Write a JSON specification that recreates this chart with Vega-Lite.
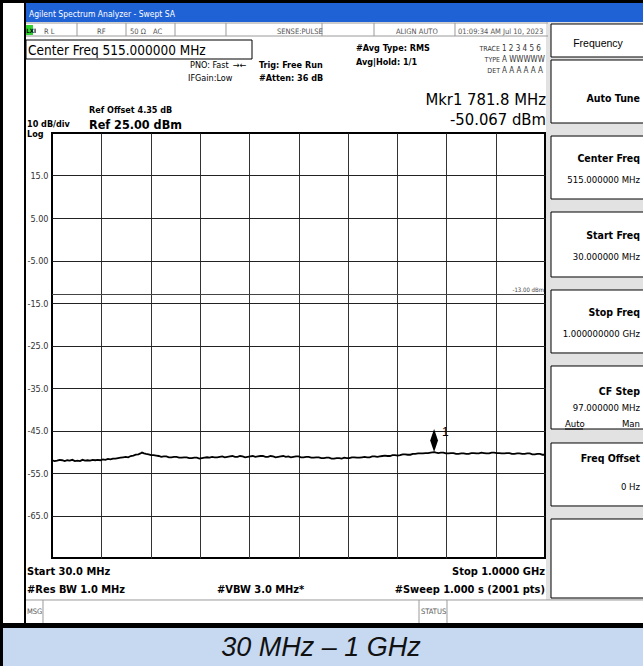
{
  "$schema": "https://vega.github.io/schema/vega-lite/v6.json",
  "width": 493,
  "height": 425,
  "autosize": {"type": "none"},
  "padding": {"left": 52, "top": 133, "right": 98, "bottom": 108},
  "background": "white",
  "datasets": {
    "trace": [
      {"f":30,"p":-52.0},{"f":35,"p":-52.2},{"f":40,"p":-52.1},{"f":45,"p":-51.9},{"f":50,"p":-52.0},{"f":55,"p":-52.2},{"f":60,"p":-52.0},{"f":65,"p":-52.1},{"f":70,"p":-51.9},{"f":75,"p":-52.2},
      {"f":80,"p":-52.1},{"f":85,"p":-52.2},{"f":90,"p":-51.9},{"f":95,"p":-52.1},{"f":100,"p":-52.0},{"f":105,"p":-52.1},{"f":110,"p":-51.9},{"f":115,"p":-52.0},{"f":120,"p":-51.9},{"f":125,"p":-52.0},
      {"f":130,"p":-51.8},{"f":135,"p":-51.9},{"f":140,"p":-51.7},{"f":145,"p":-51.8},{"f":150,"p":-51.6},{"f":155,"p":-51.6},{"f":160,"p":-51.5},{"f":165,"p":-51.4},{"f":170,"p":-51.3},{"f":175,"p":-51.2},
      {"f":180,"p":-51.3},{"f":185,"p":-51.0},{"f":190,"p":-50.9},{"f":195,"p":-50.7},{"f":200,"p":-50.6},{"f":204,"p":-50.4},{"f":207,"p":-50.2},{"f":211,"p":-50.4},{"f":215,"p":-50.5},{"f":220,"p":-50.6},
      {"f":225,"p":-50.8},{"f":230,"p":-50.8},{"f":235,"p":-50.9},{"f":240,"p":-51.0},{"f":245,"p":-51.2},{"f":250,"p":-51.1},{"f":255,"p":-51.1},{"f":260,"p":-51.3},{"f":265,"p":-51.3},{"f":270,"p":-51.2},
      {"f":275,"p":-51.2},{"f":280,"p":-51.4},{"f":285,"p":-51.4},{"f":290,"p":-51.3},{"f":295,"p":-51.3},{"f":300,"p":-51.5},{"f":305,"p":-51.5},{"f":310,"p":-51.4},{"f":315,"p":-51.4},{"f":320,"p":-51.6},
      {"f":325,"p":-51.5},{"f":330,"p":-51.4},{"f":335,"p":-51.3},{"f":340,"p":-51.4},{"f":345,"p":-51.2},{"f":350,"p":-51.3},{"f":355,"p":-51.3},{"f":360,"p":-51.2},{"f":365,"p":-51.1},{"f":370,"p":-51.3},
      {"f":375,"p":-51.2},{"f":380,"p":-51.1},{"f":385,"p":-51.0},{"f":390,"p":-51.2},{"f":395,"p":-51.2},{"f":400,"p":-51.0},{"f":405,"p":-51.1},{"f":410,"p":-51.3},{"f":415,"p":-51.2},{"f":420,"p":-51.1},
      {"f":425,"p":-51.0},{"f":430,"p":-51.2},{"f":435,"p":-51.1},{"f":440,"p":-51.0},{"f":445,"p":-51.0},{"f":450,"p":-51.2},{"f":455,"p":-51.2},{"f":460,"p":-51.0},{"f":465,"p":-51.1},{"f":470,"p":-51.3},
      {"f":475,"p":-51.2},{"f":480,"p":-51.1},{"f":485,"p":-51.0},{"f":490,"p":-51.2},{"f":495,"p":-51.1},{"f":500,"p":-51.3},{"f":505,"p":-51.2},{"f":510,"p":-51.1},{"f":515,"p":-51.1},{"f":520,"p":-51.3},
      {"f":525,"p":-51.3},{"f":530,"p":-51.2},{"f":535,"p":-51.2},{"f":540,"p":-51.4},{"f":545,"p":-51.4},{"f":550,"p":-51.3},{"f":555,"p":-51.3},{"f":560,"p":-51.5},{"f":565,"p":-51.5},{"f":570,"p":-51.4},
      {"f":575,"p":-51.4},{"f":580,"p":-51.6},{"f":585,"p":-51.6},{"f":590,"p":-51.5},{"f":595,"p":-51.5},{"f":600,"p":-51.6},{"f":605,"p":-51.4},{"f":610,"p":-51.5},{"f":615,"p":-51.5},{"f":620,"p":-51.3},
      {"f":625,"p":-51.3},{"f":630,"p":-51.4},{"f":635,"p":-51.4},{"f":640,"p":-51.3},{"f":645,"p":-51.2},{"f":650,"p":-51.3},{"f":655,"p":-51.3},{"f":660,"p":-51.1},{"f":665,"p":-51.1},{"f":670,"p":-51.2},
      {"f":675,"p":-51.1},{"f":680,"p":-51.0},{"f":685,"p":-50.9},{"f":690,"p":-51.0},{"f":695,"p":-51.0},{"f":700,"p":-50.8},{"f":705,"p":-50.8},{"f":710,"p":-50.9},{"f":715,"p":-50.8},{"f":720,"p":-50.6},
      {"f":725,"p":-50.6},{"f":730,"p":-50.7},{"f":735,"p":-50.7},{"f":740,"p":-50.5},{"f":745,"p":-50.5},{"f":750,"p":-50.4},{"f":755,"p":-50.4},{"f":760,"p":-50.4},{"f":765,"p":-50.3},{"f":770,"p":-50.3},
      {"f":775,"p":-50.2},{"f":781.8,"p":-50.07},{"f":786,"p":-50.2},{"f":790,"p":-50.3},{"f":795,"p":-50.2},{"f":800,"p":-50.2},{"f":805,"p":-50.4},{"f":810,"p":-50.4},{"f":815,"p":-50.3},{"f":820,"p":-50.3},
      {"f":825,"p":-50.5},{"f":830,"p":-50.5},{"f":835,"p":-50.4},{"f":840,"p":-50.4},{"f":845,"p":-50.5},{"f":850,"p":-50.5},{"f":855,"p":-50.3},{"f":860,"p":-50.3},{"f":865,"p":-50.4},{"f":870,"p":-50.4},
      {"f":875,"p":-50.2},{"f":880,"p":-50.3},{"f":885,"p":-50.4},{"f":890,"p":-50.4},{"f":895,"p":-50.2},{"f":900,"p":-50.2},{"f":905,"p":-50.3},{"f":910,"p":-50.3},{"f":915,"p":-50.4},{"f":920,"p":-50.4},
      {"f":925,"p":-50.3},{"f":930,"p":-50.3},{"f":935,"p":-50.5},{"f":940,"p":-50.5},{"f":945,"p":-50.4},{"f":950,"p":-50.4},{"f":955,"p":-50.5},{"f":960,"p":-50.5},{"f":965,"p":-50.4},{"f":970,"p":-50.4},
      {"f":975,"p":-50.6},{"f":980,"p":-50.6},{"f":985,"p":-50.5},{"f":990,"p":-50.5},{"f":995,"p":-50.7},{"f":1000,"p":-50.7}
    ],
    "marker": [{"f":781.8,"p":-50.067,"t":"1"}],
    "dline": [{"f":30,"f2":1000,"p":-13,"p2":-13}],
    "rBlack": [
      {"f":-73,"f2":1193,"p":57,"p2":55.59},
      {"f":-73,"f2":-66.41,"p":57,"p2":-101},
      {"f":-25.09,"f2":-21.16,"p":55.59,"p2":-90.29},
      {"f":-73,"f2":1193,"p":-90.29,"p2":-91.47}
    ],
    "rBlue": [{"f":-21.16,"f2":1193,"p":55.59,"p2":51.12}],
    "rCaption": [{"f":-66.41,"f2":1193,"p":-91.47,"p2":-101}],
    "rPanel": [{"f":1001.97,"f2":1193,"p":51.12,"p2":-84.88}],
    "rGreen": [{"f":-21.16,"f2":-7.38,"p":50.41,"p2":48.06}],
    "rBoxes": [
      {"f":1011.81,"f2":1197,"p":50.65,"p2":42.88},
      {"f":1011.81,"f2":1197,"p":42.18,"p2":27.35},
      {"f":1011.81,"f2":1197,"p":24.29,"p2":9.47},
      {"f":1011.81,"f2":1197,"p":6.41,"p2":-8.88},
      {"f":1011.81,"f2":1197,"p":-11.94,"p2":-26.76},
      {"f":1011.81,"f2":1197,"p":-29.82,"p2":-44.65},
      {"f":1011.81,"f2":1197,"p":-47.94,"p2":-62.76},
      {"f":1011.81,"f2":1197,"p":-65.82,"p2":-84.41},
      {"f":-21.16,"f2":423.51,"p":46.88,"p2":42.41}
    ],
    "lGrey": [
      {"f":-21.16,"f2":1005.9,"p":50.88,"p2":50.88},
      {"f":-21.16,"f2":1005.9,"p":47.82,"p2":47.82},
      {"f":79.19,"f2":79.19,"p":50.88,"p2":47.82},
      {"f":175.6,"f2":175.6,"p":50.88,"p2":47.82},
      {"f":272.01,"f2":272.01,"p":50.88,"p2":47.82},
      {"f":372.35,"f2":372.35,"p":50.88,"p2":47.82},
      {"f":561.24,"f2":561.24,"p":50.88,"p2":47.82},
      {"f":663.55,"f2":663.55,"p":50.88,"p2":47.82},
      {"f":822.92,"f2":822.92,"p":50.88,"p2":47.82},
      {"f":-21.16,"f2":1193,"p":-84.88,"p2":-84.88},
      {"f":12.29,"f2":12.29,"p":-84.88,"p2":-90.29},
      {"f":752.09,"f2":752.09,"p":-84.88,"p2":-90.29},
      {"f":807.18,"f2":807.18,"p":-84.88,"p2":-90.29}
    ],
    "lBlack": [{"f":1039.35,"f2":1074.7,"p":-44.65,"p2":-44.65}],
    "tTitle": [{"f":-15.25,"p":52.29,"t":"Agilent Spectrum Analyzer - Swept SA"}],
    "tStatus": [
      {"f":14.26,"p":48.29,"t":"R L"},
      {"f":118.54,"p":48.29,"t":"RF"},
      {"f":183.47,"p":48.29,"t":"50 Ω"},
      {"f":228.72,"p":48.29,"t":"AC"},
      {"f":472.7,"p":48.29,"t":"SENSE:PULSE"},
      {"f":706.84,"p":48.29,"t":"ALIGN AUTO"},
      {"f":828.83,"p":48.29,"t":"01:09:34 AM Jul 10, 2023"},
      {"f":-19.19,"p":-88.17,"t":"MSG"},
      {"f":756.03,"p":-88.17,"t":"STATUS"}
    ],
    "tLxi": [{"f":-20.5,"p":48.5,"t":"LXI"}],
    "tHdrN": [
      {"f":301.52,"p":40.29,"t":"PNO: Fast"},
      {"f":386.13,"p":40.29,"t":"→←"},
      {"f":297.59,"p":37.24,"t":"IFGain:Low"}
    ],
    "tHdr": [
      {"f":437.28,"p":40.29,"t":"Trig: Free Run"},
      {"f":437.28,"p":37.24,"t":"#Atten: 36 dB"},
      {"f":628.14,"p":44.29,"t":"#Avg Type: RMS"},
      {"f":628.14,"p":41.0,"t":"Avg|Hold: 1/1"},
      {"f":102.8,"p":29.71,"t":"Ref Offset 4.35 dB"},
      {"f":-19.19,"p":26.4,"t":"10 dB/div"},
      {"f":-19.19,"p":24.06,"t":"Log"}
    ],
    "tCenter": [{"f":-17.22,"p":43.35,"t":"Center Freq 515.000000 MHz"}],
    "tRef": [{"f":102.8,"p":26.0,"t":"Ref 25.00 dBm"}],
    "tMkr": [
      {"f":1001.97,"p":31.59,"t":"Mkr1 781.8 MHz"},
      {"f":1001.97,"p":26.88,"t":"-50.067 dBm"}
    ],
    "tBotL": [
      {"f":-19.19,"p":-79.0,"t":"Start 30.0 MHz"},
      {"f":-19.19,"p":-83.23,"t":"#Res BW 1.0 MHz"},
      {"f":354.65,"p":-83.23,"t":"#VBW 3.0 MHz*"}
    ],
    "tBotR": [
      {"f":1000,"p":-79.0,"t":"Stop 1.0000 GHz"},
      {"f":1000,"p":-83.23,"t":"#Sweep  1.000 s (2001 pts)"}
    ],
    "tSoftTitle": [
      {"f":1186.92,"p":32.29,"t":"Auto Tune"},
      {"f":1186.92,"p":18.18,"t":"Center Freq"},
      {"f":1186.92,"p":0.06,"t":"Start Freq"},
      {"f":1186.92,"p":-18.06,"t":"Stop Freq"},
      {"f":1186.92,"p":-36.65,"t":"CF Step"},
      {"f":1186.92,"p":-52.41,"t":"Freq Offset"}
    ],
    "tSoftVal": [
      {"f":1186.92,"p":13.24,"t":"515.000000 MHz"},
      {"f":1186.92,"p":-4.88,"t":"30.000000 MHz"},
      {"f":1186.92,"p":-23.0,"t":"1.000000000 GHz"},
      {"f":1186.92,"p":-40.41,"t":"97.000000 MHz"},
      {"f":1186.92,"p":-44.18,"t":"Man"},
      {"f":1186.92,"p":-59.0,"t":"0 Hz"}
    ],
    "tSoftValL": [{"f":1039.35,"p":-44.18,"t":"Auto"}],
    "tFreqHdr": [{"f":1104.28,"p":45.24,"t":"Frequency"}],
    "tTraceR": [
      {"f":911.46,"p":44.29,"t":"TRACE"},
      {"f":911.46,"p":41.71,"t":"TYPE"},
      {"f":911.46,"p":39.12,"t":"DET"}
    ],
    "tTraceL": [
      {"f":915.4,"p":44.29,"t":"1 2 3 4 5 6"},
      {"f":915.4,"p":41.71,"t":"A WWWWW"},
      {"f":915.4,"p":39.12,"t":"A A A A A A"}
    ],
    "tDl": [{"f":998,"p":-12.41,"t":"-13.00 dBm"}],
    "tCaption": [{"f":559.27,"p":-98.06,"t":"30 MHz – 1 GHz"}]
  },
  "encoding": {
    "x": {
      "field": "f", "type": "quantitative",
      "scale": {"domain": [30, 1000], "nice": false, "zero": false},
      "axis": {"values": [127, 224, 321, 418, 515, 612, 709, 806, 903], "labels": false, "ticks": false, "domain": false, "grid": true, "gridColor": "#333", "gridWidth": 1, "title": null}
    },
    "y": {
      "field": "p", "type": "quantitative",
      "scale": {"domain": [-75, 25], "nice": false, "zero": false},
      "axis": {"values": [15, 5, -5, -15, -25, -35, -45, -55, -65], "ticks": false, "domain": false, "grid": true, "gridColor": "#222", "gridWidth": 1, "title": null,
        "labelFontSize": 9, "labelColor": "#333", "labelPadding": 4, "labelFont": "DejaVu Sans Condensed, sans-serif",
        "labelExpr": "replace(format(datum.value, abs(datum.value) < 10 ? '.2f' : '.1f'), '−', '-')"}
    }
  },
  "layer": [
    {"data": {"name": "rBlack"}, "mark": {"type": "rect", "color": "black"}, "encoding": {"x2": {"field": "f2"}, "y2": {"field": "p2"}}},
    {"data": {"name": "rBlue"}, "mark": {"type": "rect", "color": "#1f62d6"}, "encoding": {"x2": {"field": "f2"}, "y2": {"field": "p2"}}},
    {"data": {"name": "rCaption"}, "mark": {"type": "rect", "color": "#c6d9f1"}, "encoding": {"x2": {"field": "f2"}, "y2": {"field": "p2"}}},
    {"data": {"name": "rPanel"}, "mark": {"type": "rect", "color": "#e2e2e2"}, "encoding": {"x2": {"field": "f2"}, "y2": {"field": "p2"}}},
    {"data": {"name": "rGreen"}, "mark": {"type": "rect", "color": "#2fd02f"}, "encoding": {"x2": {"field": "f2"}, "y2": {"field": "p2"}}},
    {"data": {"name": "rBoxes"}, "mark": {"type": "rect", "fill": "white", "stroke": "black", "strokeWidth": 1}, "encoding": {"x2": {"field": "f2"}, "y2": {"field": "p2"}}},
    {"data": {"name": "lGrey"}, "mark": {"type": "rule", "color": "#9a9a9a", "strokeWidth": 1}, "encoding": {"x2": {"field": "f2"}, "y2": {"field": "p2"}}},
    {"data": {"name": "lBlack"}, "mark": {"type": "rule", "color": "black", "strokeWidth": 1}, "encoding": {"x2": {"field": "f2"}, "y2": {"field": "p2"}}},
    {"data": {"name": "dline"}, "mark": {"type": "rule", "color": "#444", "strokeWidth": 1}, "encoding": {"x2": {"field": "f2"}, "y2": {"field": "p2"}}},
    {"data": {"name": "trace"}, "mark": {"type": "line", "color": "black", "strokeWidth": 1.8}, "encoding": {}},
    {"data": {"name": "marker"}, "mark": {"type": "point", "shape": "M0,-1L0.17,-0.5L0,0L-0.17,-0.5Z", "size": 2116, "filled": true, "color": "black", "opacity": 1}},
    {"data": {"name": "marker"}, "mark": {"type": "text", "align": "left", "baseline": "alphabetic", "dx": 8, "dy": -16, "fontSize": 12, "font": "Liberation Sans, sans-serif", "color": "black"}, "encoding": {"text": {"field": "t"}}},
    {"data": {"name": "tTitle"}, "mark": {"type": "text", "align": "left", "baseline": "alphabetic", "fontSize": 8.5, "font": "DejaVu Sans Condensed, sans-serif", "color": "white"}, "encoding": {"text": {"field": "t"}}},
    {"data": {"name": "tStatus"}, "mark": {"type": "text", "align": "left", "baseline": "alphabetic", "fontSize": 7.5, "font": "DejaVu Sans Condensed, sans-serif", "color": "#555"}, "encoding": {"text": {"field": "t"}}},
    {"data": {"name": "tLxi"}, "mark": {"type": "text", "align": "left", "baseline": "alphabetic", "fontSize": 6, "fontWeight": "bold", "font": "DejaVu Sans Condensed, sans-serif", "color": "black"}, "encoding": {"text": {"field": "t"}}},
    {"data": {"name": "tHdrN"}, "mark": {"type": "text", "align": "left", "baseline": "alphabetic", "fontSize": 9, "font": "DejaVu Sans Condensed, sans-serif", "color": "black"}, "encoding": {"text": {"field": "t"}}},
    {"data": {"name": "tHdr"}, "mark": {"type": "text", "align": "left", "baseline": "alphabetic", "fontSize": 9, "fontWeight": "bold", "font": "DejaVu Sans Condensed, sans-serif", "color": "black"}, "encoding": {"text": {"field": "t"}}},
    {"data": {"name": "tCenter"}, "mark": {"type": "text", "align": "left", "baseline": "alphabetic", "fontSize": 13.5, "font": "DejaVu Sans Condensed, sans-serif", "color": "black"}, "encoding": {"text": {"field": "t"}}},
    {"data": {"name": "tRef"}, "mark": {"type": "text", "align": "left", "baseline": "alphabetic", "fontSize": 12.5, "fontWeight": "bold", "font": "DejaVu Sans Condensed, sans-serif", "color": "black"}, "encoding": {"text": {"field": "t"}}},
    {"data": {"name": "tMkr"}, "mark": {"type": "text", "align": "right", "baseline": "alphabetic", "fontSize": 16.5, "font": "DejaVu Sans Condensed, sans-serif", "color": "black"}, "encoding": {"text": {"field": "t"}}},
    {"data": {"name": "tBotL"}, "mark": {"type": "text", "align": "left", "baseline": "alphabetic", "fontSize": 11, "fontWeight": "bold", "font": "DejaVu Sans Condensed, sans-serif", "color": "black"}, "encoding": {"text": {"field": "t"}}},
    {"data": {"name": "tBotR"}, "mark": {"type": "text", "align": "right", "baseline": "alphabetic", "fontSize": 11, "fontWeight": "bold", "font": "DejaVu Sans Condensed, sans-serif", "color": "black"}, "encoding": {"text": {"field": "t"}}},
    {"data": {"name": "tSoftTitle"}, "mark": {"type": "text", "align": "right", "baseline": "alphabetic", "fontSize": 10.5, "fontWeight": "bold", "font": "DejaVu Sans Condensed, sans-serif", "color": "black"}, "encoding": {"text": {"field": "t"}}},
    {"data": {"name": "tSoftVal"}, "mark": {"type": "text", "align": "right", "baseline": "alphabetic", "fontSize": 9.5, "font": "DejaVu Sans Condensed, sans-serif", "color": "black"}, "encoding": {"text": {"field": "t"}}},
    {"data": {"name": "tSoftValL"}, "mark": {"type": "text", "align": "left", "baseline": "alphabetic", "fontSize": 9.5, "font": "DejaVu Sans Condensed, sans-serif", "color": "black"}, "encoding": {"text": {"field": "t"}}},
    {"data": {"name": "tFreqHdr"}, "mark": {"type": "text", "align": "center", "baseline": "alphabetic", "fontSize": 10.5, "font": "Liberation Sans, sans-serif", "color": "black"}, "encoding": {"text": {"field": "t"}}},
    {"data": {"name": "tTraceR"}, "mark": {"type": "text", "align": "right", "baseline": "alphabetic", "fontSize": 7, "font": "DejaVu Sans Condensed, sans-serif", "color": "#333"}, "encoding": {"text": {"field": "t"}}},
    {"data": {"name": "tTraceL"}, "mark": {"type": "text", "align": "left", "baseline": "alphabetic", "fontSize": 8, "font": "DejaVu Sans Condensed, sans-serif", "color": "#333"}, "encoding": {"text": {"field": "t"}}},
    {"data": {"name": "tDl"}, "mark": {"type": "text", "align": "right", "baseline": "alphabetic", "fontSize": 6, "font": "DejaVu Sans Condensed, sans-serif", "color": "#444"}, "encoding": {"text": {"field": "t"}}},
    {"data": {"name": "tCaption"}, "mark": {"type": "text", "align": "center", "baseline": "alphabetic", "fontSize": 27, "fontStyle": "italic", "font": "Liberation Sans, Arial, sans-serif", "color": "#111"}, "encoding": {"text": {"field": "t"}}}
  ],
  "config": {
    "view": {"stroke": "black", "strokeWidth": 2, "fill": "white"}
  }
}
